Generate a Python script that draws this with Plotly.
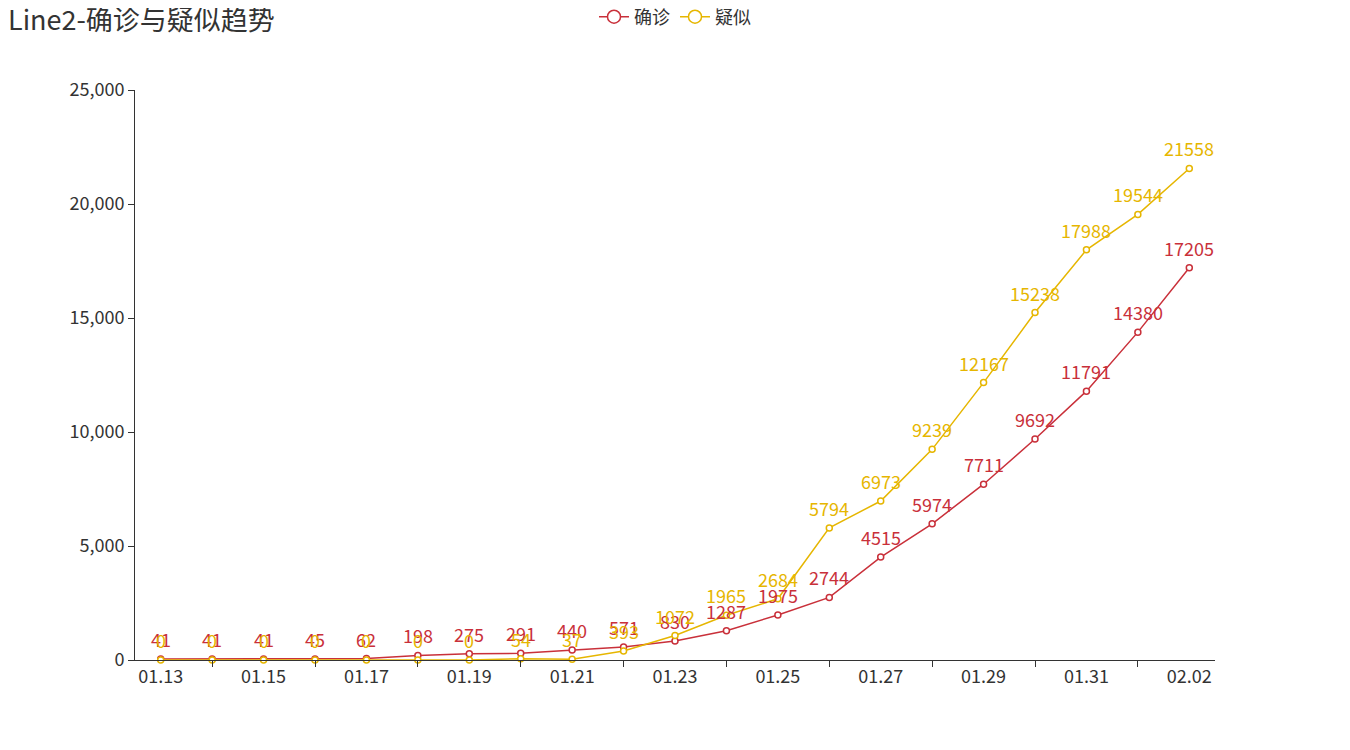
import plotly.graph_objects as go

dates = ["01.13", "01.14", "01.15", "01.16", "01.17", "01.18", "01.19", "01.20",
         "01.21", "01.22", "01.23", "01.24", "01.25", "01.26", "01.27", "01.28",
         "01.29", "01.30", "01.31", "02.01", "02.02"]
confirmed = [41, 41, 41, 45, 62, 198, 275, 291, 440, 571, 830, 1287, 1975, 2744,
             4515, 5974, 7711, 9692, 11791, 14380, 17205]
suspected = [0, 0, 0, 0, 0, 0, 0, 54, 37, 393, 1072, 1965, 2684, 5794, 6973,
             9239, 12167, 15238, 17988, 19544, 21558]

RED = "#c9303a"
GOLD = "#e6b600"
FONT = "Noto Sans CJK SC"

idx = list(range(len(dates)))

fig = go.Figure()
for name, vals, color in [("确诊", confirmed, RED), ("疑似", suspected, GOLD)]:
    fig.add_trace(go.Scatter(
        x=idx, y=vals, name=name, mode="lines+markers", showlegend=False,
        line=dict(color=color, width=1.5),
        marker=dict(symbol="circle", size=6, color="white",
                    line=dict(color=color, width=1.5)),
        cliponaxis=False,
    ))
    # 图例用的空trace, 让图例里的圆圈大一点
    fig.add_trace(go.Scatter(
        x=[None], y=[None], name=name, mode="lines+markers",
        line=dict(color=color, width=1.5),
        marker=dict(symbol="circle", size=13, color="white",
                    line=dict(color=color, width=1.5)),
    ))
    # 数据标签
    for i, v in zip(idx, vals):
        fig.add_annotation(
            x=i, y=v, text=str(v), showarrow=False, yanchor="bottom",
            yshift=5, font=dict(color=color, size=18, family=FONT),
        )

# 页面body有8px的边距, 所以这里的边距都减去8
fig.update_layout(
    width=1350, height=750,
    paper_bgcolor="white", plot_bgcolor="white",
    font=dict(family=FONT, color="#333", size=18),
    title=dict(text="Line2-确诊与疑似趋势", x=0, xanchor="left",
               y=1 - 13 / 750, yanchor="middle",
               font=dict(size=27, color="#333")),
    legend=dict(orientation="h", x=0.5, xanchor="center",
                yref="container", y=1 - 9 / 750, yanchor="middle",
                font=dict(size=18, color="#333")),
    margin=dict(l=127, r=143, t=82, b=98),
    showlegend=True,
)
fig.update_xaxes(
    range=[-0.5, 20.5], showgrid=False, zeroline=False,
    showline=True, linecolor="#333", linewidth=1,
    tickvals=idx[::2], ticktext=dates[::2], ticks="",
    tickfont=dict(size=18, color="#333"),
    minor=dict(tickvals=idx[1::2], ticks="outside", ticklen=6,
               tickcolor="#333", showgrid=False),
)
fig.update_yaxes(
    range=[0, 25000], dtick=5000, tickformat=",", showgrid=False,
    zeroline=False, showline=True, linecolor="#333", linewidth=1,
    ticks="outside", ticklen=6, tickcolor="#333",
    tickfont=dict(size=18, color="#333"),
)

fig.write_html("out.html")
